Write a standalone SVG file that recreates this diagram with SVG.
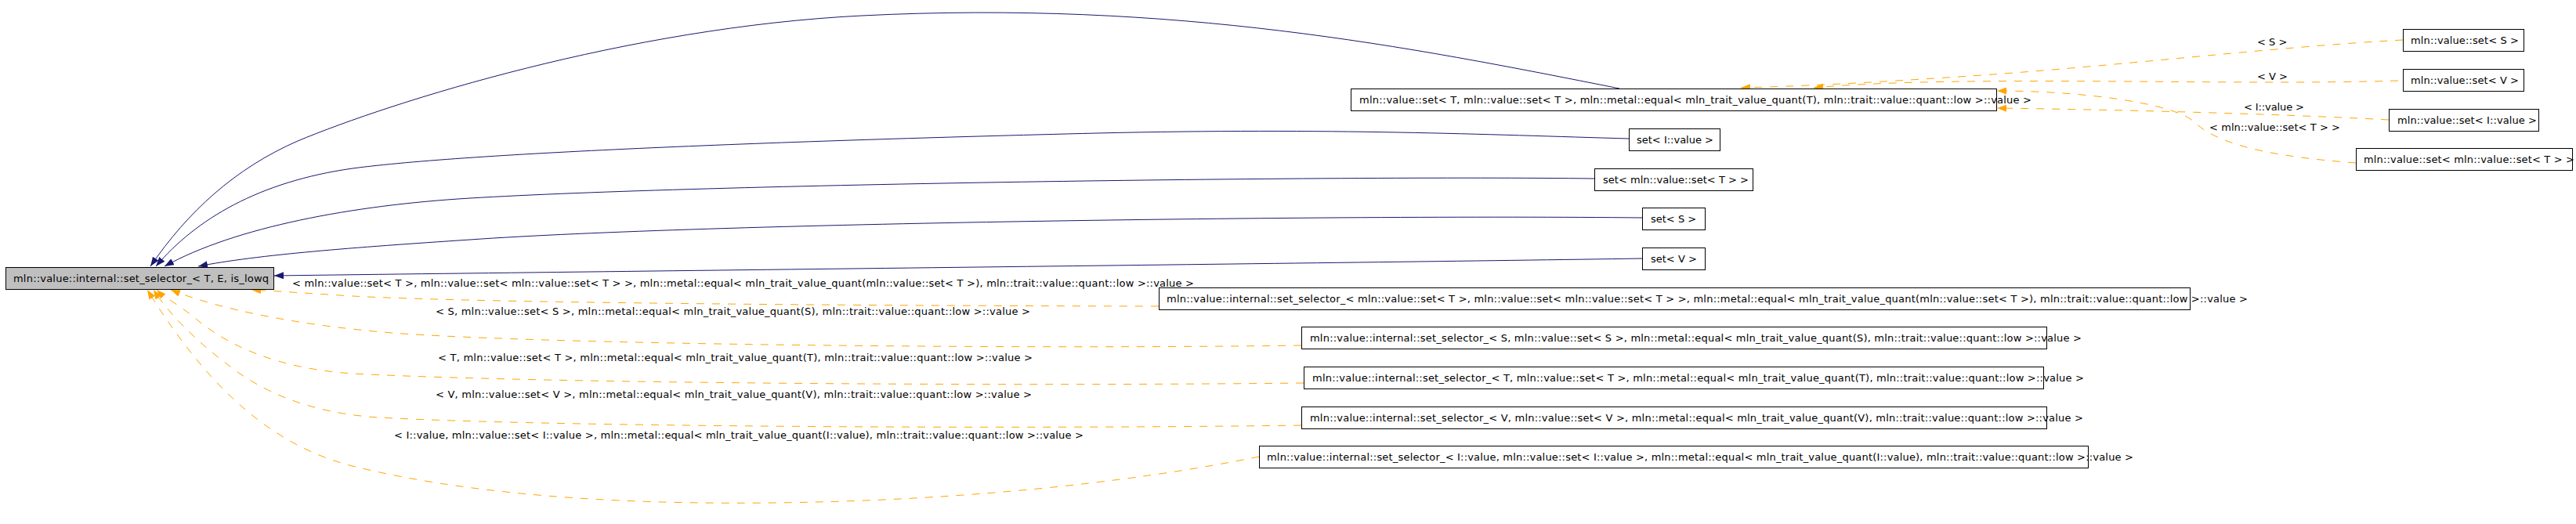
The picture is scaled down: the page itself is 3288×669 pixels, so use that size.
<svg xmlns="http://www.w3.org/2000/svg" width="3288" height="669" viewBox="0 0 3288 669">
<style>
text{font-family:"DejaVu Sans","Liberation Sans",sans-serif;font-size:13px;fill:#000}
.box{fill:#fff;stroke:#000;stroke-width:1}
.main{fill:#bfbfbf;stroke:#000;stroke-width:1}
.inh{fill:none;stroke:#191970;stroke-width:1}
.tpl{fill:none;stroke:#ffa500;stroke-width:1;stroke-dasharray:10,10}
</style>
<defs>
<marker id="an" viewBox="0 0 12 9" refX="12" refY="4.5" markerWidth="12" markerHeight="9" markerUnits="userSpaceOnUse" orient="auto"><path d="M0,0L12,4.5L0,9z" fill="#191970"/></marker>
<marker id="ao" viewBox="0 0 12 9" refX="12" refY="4.5" markerWidth="12" markerHeight="9" markerUnits="userSpaceOnUse" orient="auto"><path d="M0,0L12,4.5L0,9z" fill="#ffa500"/></marker>
</defs>
<rect width="3288" height="669" fill="#fff"/>
<g id="edges">
<path class="inh" marker-end="url(#an)" d="M2067,113 C1800,60 1500,0 1100,20 C800,35 500,130 380,180 C300,215 240,270 192,340"/>
<path class="inh" marker-end="url(#an)" d="M2079,177 C1900,172 1700,163 1400,170 C1000,180 600,195 450,215 C330,232 250,280 199,340"/>
<path class="inh" marker-end="url(#an)" d="M2035,228 C1700,224 900,235 600,253 C450,262 300,290 210,340"/>
<path class="inh" marker-end="url(#an)" d="M2096,278 C1700,274 900,285 600,306 C450,316 330,325 253,340"/>
<path class="inh" marker-end="url(#an)" d="M2096,330 C1700,336 900,345 350,352"/>
<path class="tpl" marker-end="url(#ao)" d="M1479,391 C1000,390 600,386 450,378 C400,375 360,372 321,370"/>
<path class="tpl" marker-end="url(#ao)" d="M1661,441 C1300,446 700,440 500,425 C380,415 280,395 218,370"/>
<path class="tpl" marker-end="url(#ao)" d="M1664,489 C1300,493 700,490 450,477 C350,470 290,440 250,407 C230,390 210,380 200,370"/>
<path class="tpl" marker-end="url(#ao)" d="M1661,543 C1300,548 700,545 483,533 C390,527 330,497 290,465 C250,435 215,400 196,370"/>
<path class="tpl" marker-end="url(#ao)" d="M1607,583 C1450,615 1200,645 900,642 C700,640 550,620 450,595 C330,565 250,470 188,370"/>
<path class="tpl" marker-end="url(#ao)" d="M3067,51 C2900,60 2700,85 2500,98 C2380,106 2300,110 2222,112"/>
<path class="tpl" marker-end="url(#ao)" d="M3061,103 C2850,110 2500,95 2315,112"/>
<path class="tpl" marker-end="url(#ao)" d="M3049,153 C2900,145 2700,140 2549,138"/>
<path class="tpl" marker-end="url(#ao)" d="M3007,208 C2900,200 2830,185 2800,155 C2770,130 2650,116 2549,116"/>
<text x="373" y="366" textLength="1151">&lt; mln::value::set&lt; T &gt;, mln::value::set&lt; mln::value::set&lt; T &gt; &gt;, mln::metal::equal&lt; mln_trait_value_quant(mln::value::set&lt; T &gt;), mln::trait::value::quant::low &gt;::value &gt;</text>
<text x="556" y="402" textLength="759">&lt; S, mln::value::set&lt; S &gt;, mln::metal::equal&lt; mln_trait_value_quant(S), mln::trait::value::quant::low &gt;::value &gt;</text>
<text x="559" y="461" textLength="759">&lt; T, mln::value::set&lt; T &gt;, mln::metal::equal&lt; mln_trait_value_quant(T), mln::trait::value::quant::low &gt;::value &gt;</text>
<text x="556" y="508" textLength="761">&lt; V, mln::value::set&lt; V &gt;, mln::metal::equal&lt; mln_trait_value_quant(V), mln::trait::value::quant::low &gt;::value &gt;</text>
<text x="503" y="560" textLength="880">&lt; I::value, mln::value::set&lt; I::value &gt;, mln::metal::equal&lt; mln_trait_value_quant(I::value), mln::trait::value::quant::low &gt;::value &gt;</text>
<text x="2881" y="58">&lt; S &gt;</text>
<text x="2881" y="102">&lt; V &gt;</text>
<text x="2864" y="141" textLength="77">&lt; I::value &gt;</text>
<text x="2820" y="167" textLength="167">&lt; mln::value::set&lt; T &gt; &gt;</text>
</g>
<g id="node_main"><rect class="main" x="7.5" y="341.5" width="342" height="28"/><text x="17" y="360" textLength="326">mln::value::internal::set_selector_&lt; T, E, is_lowq</text></g>
<g id="node_set_T"><rect class="box" x="1724.5" y="113.5" width="824" height="28"/><text x="1735" y="132" textLength="858">mln::value::set&lt; T, mln::value::set&lt; T &gt;, mln::metal::equal&lt; mln_trait_value_quant(T), mln::trait::value::quant::low &gt;::value &gt;</text></g>
<g id="node_set_I"><rect class="box" x="2079.5" y="164.5" width="116" height="28"/><text x="2089" y="183" textLength="98">set&lt; I::value &gt;</text></g>
<g id="node_set_setT"><rect class="box" x="2035.5" y="215.5" width="202" height="28"/><text x="2046" y="234" textLength="186">set&lt; mln::value::set&lt; T &gt; &gt;</text></g>
<g id="node_set_S"><rect class="box" x="2096.5" y="265.5" width="80" height="28"/><text x="2107" y="284">set&lt; S &gt;</text></g>
<g id="node_set_V"><rect class="box" x="2096.5" y="316.5" width="80" height="28"/><text x="2107" y="335">set&lt; V &gt;</text></g>
<g id="node_sel_setT"><rect class="box" x="1479.5" y="367.5" width="1316" height="28"/><text x="1489" y="386" textLength="1380">mln::value::internal::set_selector_&lt; mln::value::set&lt; T &gt;, mln::value::set&lt; mln::value::set&lt; T &gt; &gt;, mln::metal::equal&lt; mln_trait_value_quant(mln::value::set&lt; T &gt;), mln::trait::value::quant::low &gt;::value &gt;</text></g>
<g id="node_sel_S"><rect class="box" x="1661.5" y="417.5" width="951" height="28"/><text x="1672" y="436" textLength="985">mln::value::internal::set_selector_&lt; S, mln::value::set&lt; S &gt;, mln::metal::equal&lt; mln_trait_value_quant(S), mln::trait::value::quant::low &gt;::value &gt;</text></g>
<g id="node_sel_T"><rect class="box" x="1664.5" y="468.5" width="944" height="28"/><text x="1675" y="487" textLength="985">mln::value::internal::set_selector_&lt; T, mln::value::set&lt; T &gt;, mln::metal::equal&lt; mln_trait_value_quant(T), mln::trait::value::quant::low &gt;::value &gt;</text></g>
<g id="node_sel_V"><rect class="box" x="1661.5" y="519.5" width="951" height="28"/><text x="1672" y="538" textLength="987">mln::value::internal::set_selector_&lt; V, mln::value::set&lt; V &gt;, mln::metal::equal&lt; mln_trait_value_quant(V), mln::trait::value::quant::low &gt;::value &gt;</text></g>
<g id="node_sel_I"><rect class="box" x="1607.5" y="569.5" width="1058" height="28"/><text x="1617" y="588" textLength="1106">mln::value::internal::set_selector_&lt; I::value, mln::value::set&lt; I::value &gt;, mln::metal::equal&lt; mln_trait_value_quant(I::value), mln::trait::value::quant::low &gt;::value &gt;</text></g>
<g id="node_vset_S"><rect class="box" x="3067.5" y="37.5" width="154" height="28"/><text x="3077" y="56" textLength="138">mln::value::set&lt; S &gt;</text></g>
<g id="node_vset_V"><rect class="box" x="3067.5" y="88.5" width="154" height="28"/><text x="3077" y="107" textLength="138">mln::value::set&lt; V &gt;</text></g>
<g id="node_vset_I"><rect class="box" x="3049.5" y="139.5" width="191" height="28"/><text x="3060" y="158" textLength="178">mln::value::set&lt; I::value &gt;</text></g>
<g id="node_vset_setT"><rect class="box" x="3007.5" y="189.5" width="276" height="28"/><text x="3017" y="208" textLength="269">mln::value::set&lt; mln::value::set&lt; T &gt; &gt;</text></g>
</svg>
